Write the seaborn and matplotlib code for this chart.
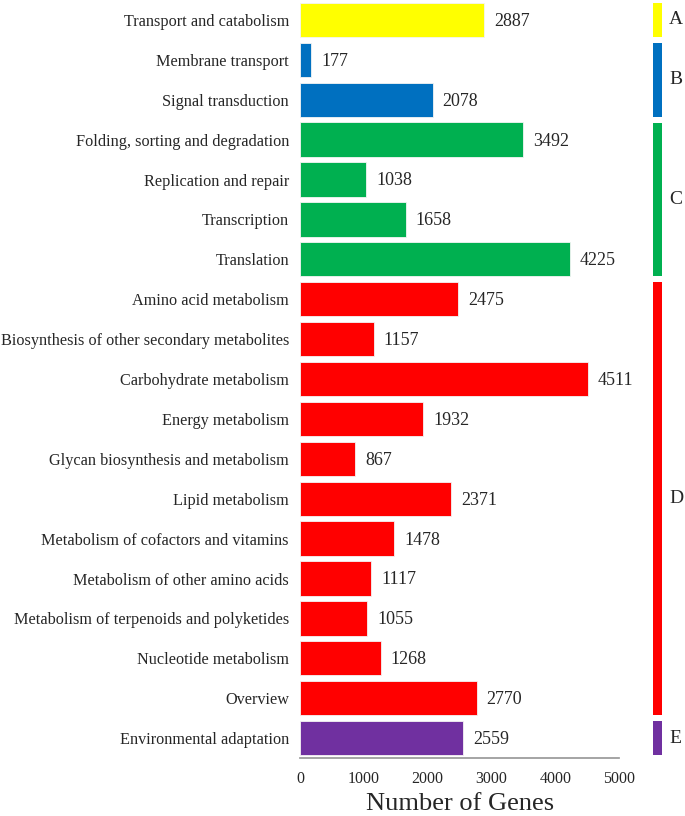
import matplotlib
matplotlib.use("Agg")
import matplotlib.pyplot as plt
import seaborn as sns
import pandas as pd
from matplotlib.patches import Rectangle

categories = ["Transport and catabolism", "Membrane transport", "Signal transduction",
              "Folding, sorting and degradation", "Replication and repair", "Transcription",
              "Translation", "Amino acid metabolism", "Biosynthesis of other secondary metabolites",
              "Carbohydrate metabolism", "Energy metabolism", "Glycan biosynthesis and metabolism",
              "Lipid metabolism", "Metabolism of cofactors and vitamins",
              "Metabolism of other amino acids", "Metabolism of terpenoids and polyketides",
              "Nucleotide metabolism", "Overview", "Environmental adaptation"]
values = [2887, 177, 2078, 3492, 1038, 1658, 4225, 2475, 1157, 4511, 1932, 867,
          2371, 1478, 1117, 1055, 1268, 2770, 2559]
groups = ["A", "B", "B", "C", "C", "C", "C", "D", "D", "D", "D", "D", "D", "D", "D", "D", "D", "D", "E"]
group_labels = ["A", "B", "C", "D", "E"]
group_colors = {"A": "#FFFF00", "B": "#0070C0", "C": "#00B050", "D": "#FF0000", "E": "#7030A0"}

sns.set_theme(style="white")
plt.rcParams["font.family"] = ["Liberation Serif", "DejaVu Serif"]

df = pd.DataFrame({"category": categories, "value": values, "group": groups})

fig = plt.figure(figsize=(6.85, 8.16), dpi=100)
ax = fig.add_axes([0.438, 0.071, 0.466, 0.929])

sns.barplot(data=df, y="category", x="value", hue="group", palette=group_colors,
            dodge=False, legend=False, width=0.86, saturation=1, ax=ax,
            edgecolor="#f4f4f4", linewidth=0.6)

for i, v in enumerate(values):
    ax.annotate(f"{v}", xy=(v, i), xytext=(7, -1), textcoords="offset points",
                ha="left", va="center", fontsize=13)

ax.set_xlim(0, 5000)
ax.set_ylim(18.5, -0.5)
ax.set_xticks([0, 1000, 2000, 3000, 4000, 5000])
ax.set_xlabel("Number of Genes", fontsize=19, labelpad=4)
ax.set_ylabel("")
ax.tick_params(axis="x", labelsize=11.5, direction="out", length=3.5, color="#999999",
               width=1, pad=6)
ax.tick_params(axis="y", labelsize=11.7, length=0, pad=8)
for s in ["top", "right", "left"]:
    ax.spines[s].set_visible(False)
ax.spines["bottom"].set_color("#999999")

# group indicator bars on the right
xpos = 5000 * (653 - 300) / 319
wid = 5000 * 8.5 / 319
for g in group_labels:
    idx = [i for i, gg in enumerate(groups) if gg == g]
    y0 = min(idx) - 0.42
    y1 = max(idx) + 0.42
    ax.add_patch(Rectangle((xpos, y0), wid, y1 - y0, facecolor=group_colors[g],
                           edgecolor="none", clip_on=False))
    ax.text(5000 * (669 - 300) / 319, (y0 + y1) / 2, g, fontsize=14,
            va="center", ha="left", clip_on=False)

fig.savefig("out.png", dpi=100)
